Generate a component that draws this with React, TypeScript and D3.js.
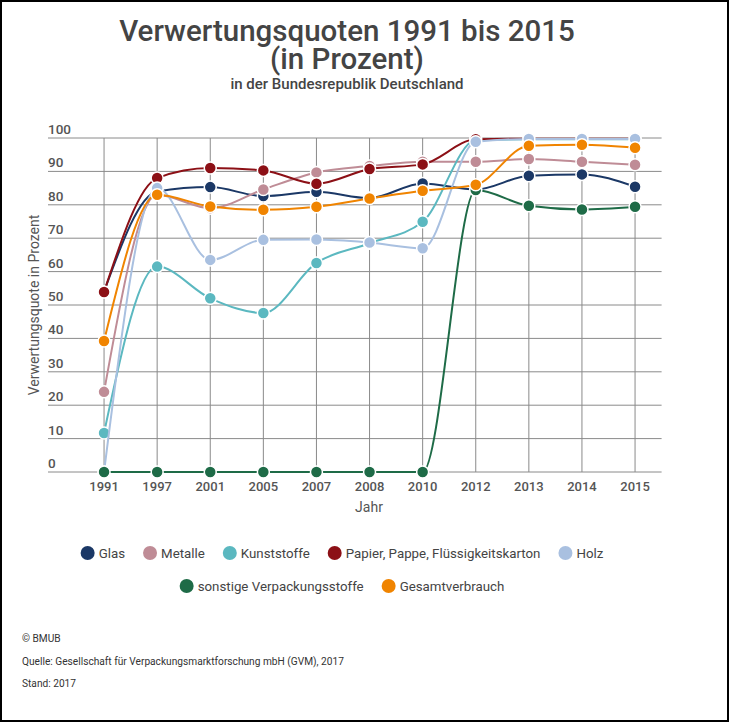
import React from "react";
import * as d3 from "d3";

const years = ["1991", "1997", "2001", "2005", "2007", "2008", "2010", "2012", "2013", "2014", "2015"];
const yTicks = [0, 10, 20, 30, 40, 50, 60, 70, 80, 90, 100];

const glas = [54, 84, 85.3, 82.6, 83.9, 82, 86.4, 84.6, 88.7, 89.1, 85.4];
const metalle = [24, 83, 79, 84.6, 89.7, 91.6, 92.9, 92.9, 93.7, 92.9, 92];
const kunststoffe = [11.7, 61.5, 52, 47.6, 62.6, 68.5, 74.9, 99.3, 99.6, 99.6, 99.6];
const papier = [53.9, 88, 91, 90.3, 86.3, 90.7, 92.1, 99.6, 99.8, 99.8, 99.8];
const holz = [0, 85, 63.5, 69.5, 69.6, 68.7, 67, 98.9, 99.7, 99.7, 99.7];
const sonstige = [0, 0, 0, 0, 0, 0, 0, 84.4, 79.7, 78.6, 79.4];
const gesamt = [39.2, 83, 79.5, 78.5, 79.4, 81.9, 84.2, 86, 97.7, 98, 97.1];

const seriesNames = ["Glas", "Metalle", "Kunststoffe", "Papier, Pappe, Flüssigkeitskarton", "Holz", "sonstige Verpackungsstoffe", "Gesamtverbrauch"];
const seriesValues = [glas, metalle, kunststoffe, papier, holz, sonstige, gesamt];
const seriesColors = ["#1b3866", "#bf8c96", "#5bb8c0", "#8c1016", "#a9c0e0", "#1e6b47", "#f08400"];

const title1 = "Verwertungsquoten 1991 bis 2015";
const title2 = "(in Prozent)";
const subtitle = "in der Bundesrepublik Deutschland";
const yTitle = "Verwertungsquote in Prozent";
const xTitle = "Jahr";
const footer = ["© BMUB", "Quelle: Gesellschaft für Verpackungsmarktforschung mbH (GVM), 2017", "Stand: 2017"];

const W = 730;
const H = 723;
const FONT = "Roboto, 'Noto Sans', sans-serif";

function measure(text: string, font: string): number {
  if (typeof document === "undefined") return text.length * 7;
  const c = document.createElement("canvas");
  const ctx = c.getContext("2d");
  if (!ctx) return text.length * 7;
  ctx.font = font;
  return ctx.measureText(text).width;
}

export default function App() {
  const plotLeft = 77.5;
  const plotRight = 661.6;
  const x = d3.scalePoint<string>().domain(years).range([plotLeft, plotRight]).padding(0.5);
  const y = d3.scaleLinear().domain([0, 100]).range([472, 138]);
  const line = d3
    .line<number>()
    .x((_, i) => x(years[i]) as number)
    .y((d) => y(d))
    .curve(d3.curveMonotoneX);

  // legend layout
  const legendFont = `13.3px Roboto`;
  const rows = [[0, 1, 2, 3, 4], [5, 6]];
  const rowY = [553, 586];
  const legendCenter = 342;
  const legendItems: { i: number; cx: number; cy: number; tx: number }[] = [];
  rows.forEach((row, r) => {
    const widths = row.map((i) => 18 + measure(seriesNames[i], legendFont));
    const gap = 18;
    const total = widths.reduce((a, b) => a + b, 0) + gap * (row.length - 1);
    let cur = legendCenter - total / 2;
    row.forEach((i, k) => {
      legendItems.push({ i, cx: cur + 7, cy: rowY[r], tx: cur + 18 });
      cur += widths[k] + gap;
    });
  });

  return (
    <svg
      width={W}
      height={H}
      style={{ position: "absolute", left: 0, top: 0, fontFamily: FONT }}
    >
      <rect x={0} y={0} width={W} height={H} fill="#fff" />
      <rect x={1} y={1} width={727} height={720} fill="none" stroke="#000" strokeWidth={2} />

      <text x={347} y={41} textAnchor="middle" fontSize={29.5} fill="#444" fontWeight={500}>
        {title1}
      </text>
      <text x={347} y={69} textAnchor="middle" fontSize={29.5} fill="#444" fontWeight={500}>
        {title2}
      </text>
      <text x={347} y={89} textAnchor="middle" fontSize={15} fill="#444" fontWeight={500}>
        {subtitle}
      </text>

      {/* grid */}
      <g>
        {yTicks.map((t) => (
          <line key={"h" + t} x1={48} x2={plotRight} y1={y(t)} y2={y(t)} stroke="#8a8a8a" strokeWidth={1} />
        ))}
        {years.map((yr) => (
          <line
            key={"v" + yr}
            x1={x(yr)}
            x2={x(yr)}
            y1={y(100)}
            y2={y(0)}
            stroke="#8a8a8a"
            strokeWidth={1}
          />
        ))}
      </g>

      {/* y tick labels */}
      {yTicks.map((t) => (
        <text key={"yl" + t} x={48} y={y(t) - 4} fontSize={13.5} fill="#555" fontWeight={500}>
          {t}
        </text>
      ))}
      {/* x tick labels */}
      {years.map((yr) => (
        <text key={"xl" + yr} x={x(yr)} y={491} textAnchor="middle" fontSize={13} fill="#555" fontWeight={500}>
          {yr}
        </text>
      ))}
      <text x={369} y={512} textAnchor="middle" fontSize={14} fill="#555">
        {xTitle}
      </text>
      <text
        transform={`translate(39, 305) rotate(-90)`}
        textAnchor="middle"
        fontSize={14}
        fill="#555"
      >
        {yTitle}
      </text>

      {/* series */}
      {seriesValues.map((vals, s) => (
        <g key={"s" + s}>
          <path d={line(vals) || ""} fill="none" stroke={seriesColors[s]} strokeWidth={2} />
          {vals.map((v, i) => (
            <circle
              key={i}
              cx={x(years[i])}
              cy={y(v)}
              r={6}
              fill={seriesColors[s]}
              stroke="#fff"
              strokeWidth={1.5}
            />
          ))}
        </g>
      ))}

      {/* legend */}
      {legendItems.map((it) => (
        <g key={"lg" + it.i}>
          <circle cx={it.cx} cy={it.cy} r={7} fill={seriesColors[it.i]} />
          <text x={it.tx} y={it.cy + 4.5} fontSize={13.3} fill="#444">
            {seriesNames[it.i]}
          </text>
        </g>
      ))}

      {/* footer */}
      {footer.map((f, k) => (
        <text
          key={"f" + k}
          transform={`translate(22, ${642 + k * 22.5}) scale(0.925, 1)`}
          fontSize={11}
          fill="#333"
        >
          {f}
        </text>
      ))}
    </svg>
  );
}
